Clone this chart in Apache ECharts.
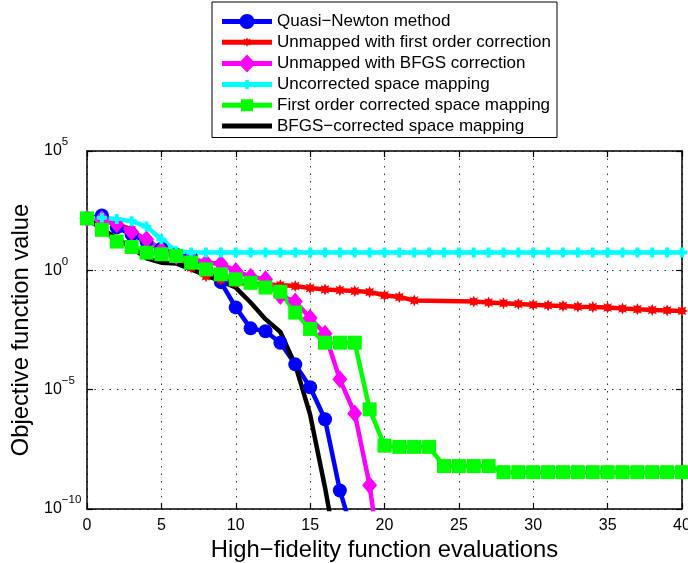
<!DOCTYPE html>
<html>
<head>
<meta charset="utf-8">
<style>
html, body { margin: 0; padding: 0; background: #fff; }
#chart { width: 688px; height: 563px; }
</style>
<script src="https://cdn.jsdelivr.net/npm/echarts@6/dist/echarts.min.js"></script>
</head>
<body>
<div id="chart"></div>
<script>
// Objective function value vs. number of high-fidelity evaluations
const seriesNames = [
  'Quasi\u2212Newton method',
  'Unmapped with first order correction',
  'Unmapped with BFGS correction',
  'Uncorrected space mapping',
  'First order corrected space mapping',
  'BFGS\u2212corrected space mapping'
];
const seriesColors = ['#0000ff', '#ff0000', '#ff00ff', '#00ffff', '#00ff00', '#000000'];

// Quasi-Newton, evaluations 0..18
const quasiNewtonValues = [150, 200, 63, 32, 16, 8, 4.5, 3.4, 1.4, 0.32, 0.028, 3.7e-3, 2.8e-3,
  9.3e-4, 1.15e-4, 1.26e-5, 5.8e-7, 6e-10, 5e-12];

// Unmapped with first order correction (no evaluations logged at 23..25)
const unmappedFirstEvals = [0, 1, 2, 3, 4, 5, 6, 7, 8, 9, 10, 11, 12, 13, 14, 15, 16, 17, 18, 19, 20, 21, 22,
  26, 27, 28, 29, 30, 31, 32, 33, 34, 35, 36, 37, 38, 39, 40];
const unmappedFirstValues = [150, 140, 90, 50, 17, 7, 3.2, 1.3, 0.56, 0.4, 0.3, 0.275, 0.263, 0.24, 0.22,
  0.18, 0.158, 0.148, 0.135, 0.123, 0.09, 0.076, 0.055,
  0.049, 0.045, 0.042, 0.039, 0.036, 0.034, 0.032, 0.030, 0.029, 0.0275, 0.025, 0.0234, 0.022, 0.021, 0.020];

// Unmapped with BFGS correction, evaluations 0..20
const unmappedBfgsValues = [150, 140, 85, 40, 20, 7, 4, 3.2, 2.1, 1.9, 0.93, 0.54, 0.42, 0.085, 0.05,
  0.01, 2.2e-3, 2.7e-5, 1e-6, 1e-9, 3e-14];

// Uncorrected space mapping, evaluations 0..40
const uncorrectedSmValues = [150, 160, 140, 115, 68, 20, 6.3, 5.6, 5.6, 5.6, 5.6, 5.6, 5.6, 5.6, 5.6, 5.6,
  5.6, 5.6, 5.6, 5.6, 5.6, 5.6, 5.6, 5.6, 5.6, 5.6, 5.6, 5.6, 5.6, 5.6, 5.6, 5.6, 5.6, 5.6, 5.6, 5.6,
  5.6, 5.6, 5.6, 5.6, 5.6];

// First order corrected space mapping, evaluations 0..40
const firstOrderSmValues = [150, 50, 16, 9.5, 5.5, 4.7, 4.0, 2.1, 1.1, 0.68, 0.42, 0.30, 0.19, 0.126,
  0.017, 3.5e-3, 9.3e-4, 9.3e-4, 9.3e-4, 1.5e-6, 4.5e-8, 4e-8, 4e-8, 4e-8, 6.3e-9, 6.3e-9, 6.3e-9, 6.3e-9,
  3.5e-9, 3.5e-9, 3.5e-9, 3.5e-9, 3.5e-9, 3.5e-9, 3.5e-9, 3.5e-9, 3.5e-9, 3.5e-9, 3.5e-9, 3.5e-9, 3.5e-9];

// BFGS-corrected space mapping, evaluations 0..17
const bfgsSmValues = [150, 55, 22, 9, 3.2, 2.1, 1.95, 1.1, 0.63, 0.35, 0.19, 0.045, 0.009, 2.6e-3,
  1.1e-4, 9e-7, 8e-10, 3e-13];

// Axis ticks
const xTicks = { min: 0, max: 40, step: 5 };
const yTicks = { min: 1e-10, max: 1e5, decadeStep: 5 };

const FONT = "'Liberation Sans', Arial, Helvetica, sans-serif";

function indexed(values) { return values.map((v, i) => [i, v]); }
function zipped(xs, ys) { return xs.map((x, i) => [x, ys[i]]); }

// ---- marker shapes (clockwise polygons so unions fill solidly) ----
function polyPath(pts) {
  return pts.map((p, i) => (i ? 'L' : 'M') + p[0].toFixed(2) + ',' + p[1].toFixed(2)).join(' ') + ' Z';
}
function starPts(cx, cy, rOut, rIn, n) {
  const pts = [];
  for (let k = 0; k < 2 * n; k++) {
    const a = -Math.PI / 2 + k * Math.PI / n;
    const r = k % 2 === 0 ? rOut : rIn;
    pts.push([cx + r * Math.cos(a), cy + r * Math.sin(a)]);
  }
  return pts;
}
function circlePts(cx, cy, r) {
  const pts = [];
  for (let k = 0; k < 32; k++) {
    const a = -Math.PI / 2 + k * 2 * Math.PI / 32;
    pts.push([cx + r * Math.cos(a), cy + r * Math.sin(a)]);
  }
  return pts;
}
function plusPts(cx, cy, a, t) {
  return [[cx - t, cy - a], [cx + t, cy - a], [cx + t, cy - t], [cx + a, cy - t], [cx + a, cy + t],
    [cx + t, cy + t], [cx + t, cy + a], [cx - t, cy + a], [cx - t, cy + t], [cx - a, cy + t],
    [cx - a, cy - t], [cx - t, cy - t]];
}
function rectPts(x0, y0, x1, y1) { return [[x0, y0], [x1, y0], [x1, y1], [x0, y1]]; }

const starSymbol = 'path://' + polyPath(starPts(0, 0, 6, 3.4, 8));
const plusSymbol = 'path://' + polyPath(plusPts(0, 0, 5, 1.9));

// legend icons: 50px line sample with the marker in the middle
const bar = polyPath(rectPts(0, -2.5, 50, 2.5));
const legendIcons = [
  'path://' + bar + ' ' + polyPath(circlePts(25, 0, 7.5)),
  'path://' + bar + ' ' + polyPath(starPts(25, 0, 4.8, 2.8, 8)),
  'path://' + bar + ' ' + polyPath([[25, -9], [33.5, 0], [25, 9], [16.5, 0]]),
  'path://' + bar + ' ' + polyPath(plusPts(25, 0, 4.5, 1.8)),
  'path://' + bar + ' ' + polyPath(rectPts(19, -6, 31, 6)),
  'path://' + bar
];

function lineSeries(idx, data, symbol, symbolSize) {
  return {
    name: seriesNames[idx],
    type: 'line',
    data: data,
    color: seriesColors[idx],
    symbol: symbol,
    symbolSize: symbolSize,
    showSymbol: symbol !== 'none',
    clip: true,
    lineStyle: { width: 4.5, color: seriesColors[idx] },
    itemStyle: { color: seriesColors[idx], borderWidth: 0 },
    emphasis: { disabled: true },
    animation: false
  };
}

function supLabel(v) {
  const e = Math.round(Math.log10(v));
  return '{b|10}{e|' + (e < 0 ? '\u2212' + (-e) : String(e)) + '}';
}

const chart = echarts.init(document.getElementById('chart'), null, { renderer: 'canvas' });

const gridLine = { show: true, lineStyle: { color: '#333', width: 1, type: [1.5, 6] } };
const axisLine = { show: true, onZero: false, lineStyle: { color: '#000', width: 1.5 } };
const tickIn = { show: true, inside: true, length: 6, lineStyle: { color: '#000', width: 1.2 } };

chart.setOption({
  animation: false,
  backgroundColor: '#fff',
  textStyle: { fontFamily: FONT },
  grid: { left: 87, right: 6, top: 151, bottom: 54, containLabel: false, outerBoundsMode: 'none' },
  legend: {
    orient: 'vertical',
    left: 212,
    top: 2,
    padding: [11, 6, 3, 10],
    itemWidth: 50,
    itemHeight: 18,
    itemGap: 3.7,
    symbolKeepAspect: true,
    selectedMode: false,
    backgroundColor: '#fff',
    borderColor: '#000',
    borderWidth: 1,
    borderRadius: 0,
    itemStyle: { borderWidth: 0 },
    textStyle: { fontFamily: FONT, fontSize: 17, color: '#000' },
    data: seriesNames.map((n, i) => ({ name: n, icon: legendIcons[i] }))
  },
  xAxis: [{
    type: 'value',
    min: xTicks.min, max: xTicks.max, interval: xTicks.step,
    name: 'High\u2212fidelity function evaluations',
    nameLocation: 'middle',
    nameGap: 26,
    nameTextStyle: { fontFamily: FONT, fontSize: 23.8, color: '#000' },
    axisLine: axisLine,
    axisTick: tickIn,
    axisLabel: { fontFamily: FONT, fontSize: 16, color: '#000', margin: 9 },
    splitLine: gridLine
  }, {
    type: 'value',
    position: 'top',
    min: xTicks.min, max: xTicks.max, interval: xTicks.step,
    axisLine: axisLine,
    axisTick: tickIn,
    axisLabel: { show: false },
    splitLine: { show: false }
  }],
  yAxis: [{
    type: 'log',
    logBase: 10,
    min: yTicks.min, max: yTicks.max, interval: yTicks.decadeStep,
    name: 'Objective function value',
    nameLocation: 'middle',
    nameGap: 48,
    nameTextStyle: { fontFamily: FONT, fontSize: 23.8, color: '#000' },
    axisLine: axisLine,
    axisTick: tickIn,
    axisLabel: {
      formatter: supLabel,
      align: 'left',
      margin: 43,
      color: '#000',
      rich: {
        b: { fontFamily: FONT, fontSize: 16, lineHeight: 30, verticalAlign: 'middle', color: '#000' },
        e: { fontFamily: FONT, fontSize: 11.5, lineHeight: 11, verticalAlign: 'top', color: '#000' }
      }
    },
    splitLine: gridLine
  }, {
    type: 'log',
    logBase: 10,
    position: 'right',
    min: yTicks.min, max: yTicks.max, interval: yTicks.decadeStep,
    axisLine: axisLine,
    axisTick: tickIn,
    axisLabel: { show: false },
    splitLine: { show: false }
  }],
  series: [
    lineSeries(0, indexed(quasiNewtonValues), 'circle', 14),
    lineSeries(1, zipped(unmappedFirstEvals, unmappedFirstValues), starSymbol, 12),
    lineSeries(2, indexed(unmappedBfgsValues), 'diamond', [15, 18]),
    lineSeries(3, indexed(uncorrectedSmValues), plusSymbol, 10),
    lineSeries(4, indexed(firstOrderSmValues), 'rect', 14),
    lineSeries(5, indexed(bfgsSmValues), 'none', 0)
  ]
});
</script>
</body>
</html>
